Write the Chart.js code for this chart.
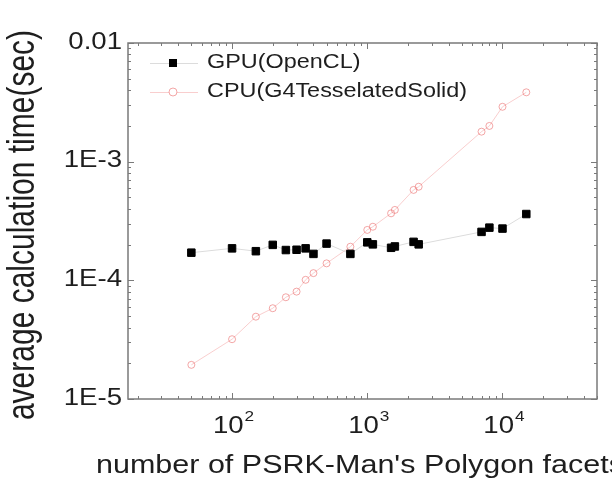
<!DOCTYPE html>
<html>
<head>
<meta charset="utf-8">
<script src="https://cdn.jsdelivr.net/npm/chart.js@4.4.0/dist/chart.umd.min.js"></script>
<style>
    html, body { margin: 0; padding: 0; background: #fff; }
    #wrap { width: 612px; height: 478px; }
</style>
</head>
<body>
<div id="wrap"><canvas id="line_chart" width="612" height="478"></canvas></div>
<script>
// number of facets (same x for both series)
const facets = [50, 100, 150, 200, 250, 300, 350, 400, 500, 750, 1000, 1100, 1500, 1600, 2200, 2400, 7000, 8000, 10000, 15000];
// average calculation time (sec)
const gpuTime = [1.71e-4, 1.86e-4, 1.76e-4, 1.99e-4, 1.80e-4, 1.81e-4, 1.86e-4, 1.67e-4, 2.04e-4, 1.67e-4,
                 2.09e-4, 2.01e-4, 1.88e-4, 1.93e-4, 2.11e-4, 2.01e-4, 2.56e-4, 2.78e-4, 2.73e-4, 3.62e-4];
const cpuTime = [1.94e-5, 3.19e-5, 4.94e-5, 5.82e-5, 7.2e-5, 8.03e-5, 1.01e-4, 1.15e-4, 1.39e-4, 1.92e-4,
                 2.66e-4, 2.83e-4, 3.67e-4, 3.92e-4, 5.78e-4, 6.15e-4, 1.79e-3, 2.0e-3, 2.9e-3, 3.84e-3];

const seriesNames = ['GPU(OpenCL)', 'CPU(G4TesselatedSolid)'];

// decade tick labels
const xTickExp = [2, 3, 4];
const yTickExp = [-5, -4, -3, -2];
const yTickLabels = ['1E-5', '1E-4', '1E-3', '0.01'];
const xTitle = "number of PSRK-Man's Polygon facets";
const yTitle = 'average calculation time(sec)';

const FONT = "'Liberation Sans', Arial, sans-serif";
const textColor = '#1e1e1e';
const gpuLine = '#dcdcdc';
const cpuLine = 'rgba(244, 165, 165, 0.55)';
const cpuMark = 'rgba(236, 120, 120, 0.65)';
const axisColor = '#7a7a7a';

function toPoints(xs, ys) {
    let pts = [];
    for (let i = 0; i < xs.length; i++) {
        pts.push({x: xs[i], y: ys[i]});
    }
    return pts;
}

// the figure text is a bit wider than tall, so draw it with a horizontal stretch
function stretchText(ctx, text, x, y, size, sx, align, baseline, rot) {
    ctx.save();
    ctx.translate(x, y);
    ctx.scale(sx, 1);
    if (rot) ctx.rotate(rot);
    ctx.font = size + 'px ' + FONT;
    ctx.textAlign = align;
    ctx.textBaseline = baseline;
    ctx.fillText(text, 0, 0);
    ctx.restore();
}

const framePlugin = {
    id: 'frame',
    afterDraw(chart) {
        let ctx = chart.ctx;
        let a = chart.chartArea;
        let xs = chart.scales.x;
        let ys = chart.scales.y;
        ctx.save();
        ctx.strokeStyle = axisColor;
        ctx.lineWidth = 1.5;
        ctx.strokeRect(a.left, a.top, a.right - a.left, a.bottom - a.top);

        // inward ticks on all four sides
        ctx.lineWidth = 1;
        ctx.beginPath();
        for (let e = 1; e <= 4; e++) {
            for (let m = 1; m <= 9; m++) {
                let v = m * Math.pow(10, e);
                if (v < xs.min || v > xs.max) continue;
                let px = Math.round(xs.getPixelForValue(v)) + 0.5;
                let len = m === 1 ? 6 : 3;
                ctx.moveTo(px, a.bottom); ctx.lineTo(px, a.bottom - len);
                ctx.moveTo(px, a.top); ctx.lineTo(px, a.top + len);
            }
        }
        for (let e = -5; e <= -2; e++) {
            for (let m = 1; m <= 9; m++) {
                let v = m * Math.pow(10, e);
                if (v < ys.min * 0.999 || v > ys.max * 1.001) continue;
                let py = Math.round(ys.getPixelForValue(v)) + 0.5;
                let len = m === 1 ? 6 : 3;
                ctx.moveTo(a.left, py); ctx.lineTo(a.left + len, py);
                ctx.moveTo(a.right, py); ctx.lineTo(a.right - len, py);
            }
        }
        ctx.stroke();

        ctx.fillStyle = textColor;
        // y tick labels
        for (let i = 0; i < yTickExp.length; i++) {
            let py = ys.getPixelForValue(Math.pow(10, yTickExp[i]));
            stretchText(ctx, yTickLabels[i], a.left - 6, py - 1, 24, 1.15, 'right', 'middle');
        }
        // x tick labels: 10 with a raised exponent
        for (let i = 0; i < xTickExp.length; i++) {
            let px = xs.getPixelForValue(Math.pow(10, xTickExp[i]));
            ctx.font = '24px ' + FONT;
            let wBase = ctx.measureText('10').width * 1.15;
            ctx.font = '15px ' + FONT;
            let wExp = ctx.measureText(String(xTickExp[i])).width * 1.15;
            let x0 = px - (wBase + wExp) / 2 + 1;
            stretchText(ctx, '10', x0, 433, 24, 1.15, 'left', 'alphabetic');
            stretchText(ctx, String(xTickExp[i]), x0 + wBase + 1, 421, 15, 1.15, 'left', 'alphabetic');
        }
        // axis titles
        stretchText(ctx, xTitle, 96, 473, 25, 1.22, 'left', 'alphabetic');
        stretchText(ctx, yTitle, 34, (a.top + a.bottom) / 2 + 4, 30, 1.3, 'center', 'alphabetic', -Math.PI / 2);

        // legend
        let rows = [63, 92];
        for (let i = 0; i < 2; i++) {
            let y = rows[i];
            ctx.strokeStyle = i === 0 ? gpuLine : cpuLine;
            ctx.lineWidth = 1;
            ctx.beginPath();
            ctx.moveTo(150, y + 0.5); ctx.lineTo(198, y + 0.5);
            ctx.stroke();
            if (i === 0) {
                ctx.fillStyle = '#000';
                ctx.fillRect(169, y - 4, 8, 8);
            } else {
                ctx.fillStyle = '#fff';
                ctx.strokeStyle = cpuMark;
                ctx.beginPath();
                ctx.arc(173, y, 4, 0, Math.PI * 2);
                ctx.fill();
                ctx.stroke();
            }
            ctx.fillStyle = textColor;
            stretchText(ctx, seriesNames[i], 207, y, 19.5, 1.2, 'left', 'middle');
        }
        ctx.restore();
    }
};

let config = {
    type: 'line',
    data: {
        datasets: [{
            label: seriesNames[0],
            data: toPoints(facets, gpuTime),
            borderColor: gpuLine,
            borderWidth: 1,
            pointStyle: 'rect',
            pointRadius: 5.3,
            pointBackgroundColor: '#000',
            pointBorderColor: '#000',
            pointBorderWidth: 1
        }, {
            label: seriesNames[1],
            data: toPoints(facets, cpuTime),
            borderColor: cpuLine,
            borderWidth: 1,
            pointStyle: 'circle',
            pointRadius: 3.5,
            pointBackgroundColor: 'rgba(255, 255, 255, 0)',
            pointBorderColor: cpuMark,
            pointBorderWidth: 1
        }]
    },
    options: {
        responsive: false,
        animation: false,
        devicePixelRatio: 1,
        layout: { padding: { top: 43, right: 15, left: 0, bottom: 0 } },
        plugins: { legend: { display: false }, tooltip: { enabled: false } },
        elements: { line: { tension: 0 } },
        scales: {
            x: {
                type: 'logarithmic',
                min: 17,
                max: 50000,
                grid: { display: false, drawTicks: false },
                border: { display: false },
                ticks: { display: false },
                afterFit: (scale) => { scale.height = 79; }
            },
            y: {
                type: 'logarithmic',
                min: 1e-5,
                max: 0.01,
                grid: { display: false, drawTicks: false },
                border: { display: false },
                ticks: { display: false },
                afterFit: (scale) => { scale.width = 128; }
            }
        }
    },
    plugins: [framePlugin]
};

new Chart(document.getElementById('line_chart').getContext('2d'), config);
</script>
</body>
</html>
